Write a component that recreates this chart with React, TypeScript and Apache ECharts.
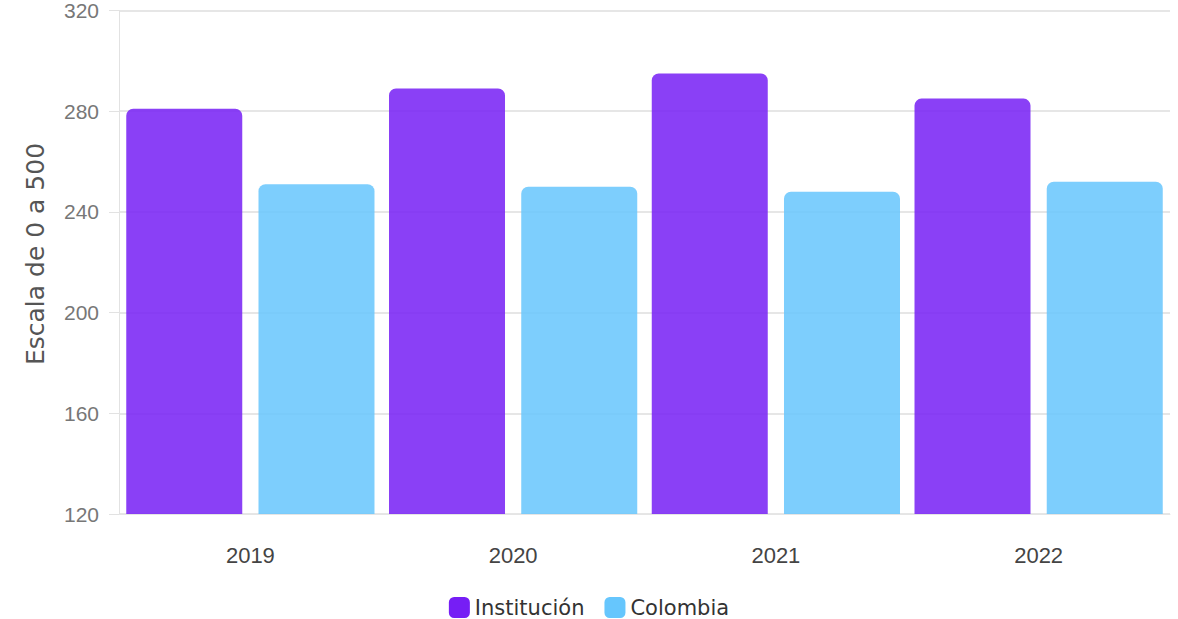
import React, { useEffect, useRef } from "react";
import * as echarts from "echarts";

const categories = ["2019", "2020", "2021", "2022"];
const institucion = [281, 289, 295, 285];
const colombia = [251, 250, 248, 252];
const yTicks = { min: 120, max: 320, interval: 40 };
const yTitle = "Escala de 0 a 500";

export default function App() {
  const ref = useRef<HTMLDivElement>(null);
  useEffect(() => {
    if (!ref.current) return;
    const chart = echarts.init(ref.current, null, { renderer: "svg" });
    chart.setOption({
      animation: false,
      grid: { left: 119, right: 8, top: 10, bottom: 105 },
      legend: {
        top: 592,
        left: "center",
        itemWidth: 21,
        itemHeight: 21,
        itemGap: 20,
        icon: "roundRect",
        textStyle: { fontFamily: "DejaVu Sans", fontSize: 21, color: "#333" },
        data: [
          { name: "Institución", itemStyle: { color: "#761ef5" } },
          { name: "Colombia", itemStyle: { color: "#66c6fd" } },
        ],
      },
      graphic: [
        {
          type: "text",
          x: 35,
          y: 254,
          rotation: Math.PI / 2,
          style: {
            text: yTitle,
            fontFamily: "DejaVu Sans",
            fontSize: 25,
            fill: "#555",
            align: "center",
            verticalAlign: "middle",
          },
        },
      ],
      xAxis: {
        type: "category",
        data: categories,
        axisLine: { show: true, lineStyle: { color: "#e5e5e5" } },
        axisTick: { show: false },
        axisLabel: { margin: 30, fontFamily: "Liberation Sans", fontSize: 22, color: "#444" },
      },
      yAxis: {
        type: "value",
        min: yTicks.min,
        max: yTicks.max,
        interval: yTicks.interval,
        axisLine: { show: true, lineStyle: { color: "#e2e2e2" } },
        axisTick: { show: true, length: 10, lineStyle: { color: "#e2e2e2" } },
        axisLabel: { margin: 20, fontFamily: "Liberation Sans", fontSize: 21, color: "#777" },
        splitLine: { lineStyle: { color: "#e6e6e6", width: 2 } },
      },
      series: [
        {
          name: "Institución",
          type: "bar",
          data: institucion,
          barWidth: 116,
          barGap: "14%",
          itemStyle: { color: "rgba(118,30,245,0.85)", borderRadius: [7, 7, 0, 0] },
        },
        {
          name: "Colombia",
          type: "bar",
          data: colombia,
          barWidth: 116,
          itemStyle: { color: "rgba(102,198,253,0.85)", borderRadius: [7, 7, 0, 0] },
        },
      ],
    });
    return () => chart.dispose();
  }, []);
  return (
    <div
      ref={ref}
      style={{ position: "fixed", left: 0, top: 0, width: 1178, height: 619, background: "#fff" }}
    />
  );
}
